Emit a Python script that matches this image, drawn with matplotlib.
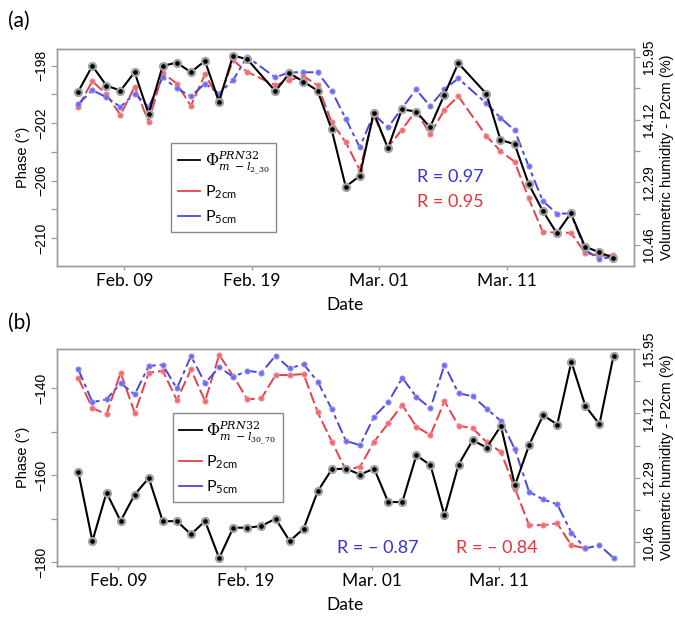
import numpy as np
import matplotlib
matplotlib.use("Agg")
import matplotlib.pyplot as plt
from matplotlib.lines import Line2D

# ---------------- data ----------------
# observation times, days counted from Feb. 00 (Feb. 09 = 9, Mar. 01 = 29)
days_a = [5.39, 6.49, 7.60, 8.70, 9.81, 10.91, 12.01, 13.12, 14.22, 15.33, 16.43, 17.53, 18.64,
          20.85, 21.95, 23.05, 24.16, 25.26, 26.37, 27.47, 28.57, 29.68, 30.78, 31.89, 32.99,
          34.10, 35.20, 37.41, 38.51, 39.62, 40.72, 41.82, 42.93, 44.03, 45.14, 46.24, 47.34]
phase_a = [-199.81, -198.02, -199.39, -199.74, -198.46, -201.36, -198.02, -197.79, -198.46, -197.67,
           -200.51, -197.30, -197.55, -199.78, -198.53, -199.11, -199.74, -202.43, -206.43, -205.68,
           -201.27, -203.75, -201.04, -201.20, -202.29, -200.04, -197.83, -199.97, -203.17, -203.47,
           -206.24, -208.10, -209.67, -208.28, -210.60, -210.99, -211.37]
p2_a = [14.49, 15.24, 14.86, 14.25, 15.08, 14.05, 15.48, 15.17, 14.52, 15.44, 14.71, 15.85, 15.51,
        15.12, 15.27, 15.39, 15.12, 14.05, 13.46, 12.65, 14.25, 13.31, 13.83, 14.38, 13.69, 14.40,
        14.80, 13.64, 13.20, 12.89, 11.82, 10.85, 10.82, 10.82, 10.24, 10.14, 10.17]
p5_a = [14.57, 14.98, 14.77, 14.49, 14.88, 14.49, 15.35, 15.03, 14.80, 15.17, 14.88, 15.27, 15.95,
        15.35, 15.50, 15.50, 15.50, 14.96, 14.15, 13.31, 14.28, 13.89, 14.45, 15.00, 14.51, 15.00,
        15.32, 14.59, 14.17, 13.81, 12.76, 11.75, 11.38, 11.38, 10.33, 10.05, 10.12]

days_b = [5.85, 6.96, 8.07, 9.18, 10.29, 11.40, 12.50, 13.61, 14.72, 15.83, 16.94, 18.05, 19.16,
          20.27, 21.38, 22.49, 23.59, 24.70, 25.81, 26.92, 28.03, 29.14, 30.25, 31.36, 32.47, 33.58,
          34.68, 35.79, 36.90, 38.01, 39.12, 40.23, 41.34, 42.45, 43.56, 44.67, 45.77, 46.88, 47.99]
phase_b = [-159.24, -175.15, -163.99, -170.54, -164.45, -160.62, -170.61, -170.54, -173.61, -170.54,
           -179.07, -172.07, -172.07, -171.69, -169.99, -175.15, -172.30, -163.69, -158.62, -158.45,
           -159.84, -158.45, -166.16, -166.16, -155.39, -157.69, -169.23, -157.53, -151.93, -153.61,
           -148.63, -162.31, -153.08, -146.16, -148.30, -133.86, -144.01, -148.24, -132.48]
p2_b = [15.12, 14.27, 14.10, 15.28, 14.14, 15.28, 15.33, 14.50, 15.37, 14.47, 15.78, 15.18, 14.52,
        14.55, 15.21, 15.21, 15.24, 14.15, 13.32, 12.51, 12.61, 13.32, 13.84, 14.36, 13.74, 13.51,
        14.47, 13.77, 13.70, 13.30, 13.03, 11.99, 10.95, 10.95, 11.00, 10.38, 10.29]
p5_b = [15.37, 14.44, 14.52, 14.98, 14.66, 15.47, 15.50, 14.83, 15.75, 14.98, 15.43, 15.16, 15.33,
        15.28, 15.76, 15.40, 15.52, 15.02, 14.24, 13.34, 13.22, 14.03, 14.44, 15.13, 14.59, 14.27,
        15.50, 14.69, 14.61, 14.25, 13.91, 13.10, 11.90, 11.68, 11.54, 10.74, 10.29, 10.38, 10.02]

date_ticks = [9, 19, 29, 39]
date_labels = ["Feb. 09", "Feb. 19", "Mar. 01", "Mar. 11"]
right_ticks = [15.95, 14.12, 12.29, 10.46]

# ---------------- style ----------------
RED = "#e8404a"
BLUE = "#4848e0"
RED_T = "#e8303a"
BLUE_T = "#3434d8"
SPINE = "#9a9a9a"
CAL = ["Lato", "DejaVu Sans"]
ARI = ["Liberation Sans", "DejaVu Sans"]
plt.rcParams["mathtext.fontset"] = "dejavuserif"

fig = plt.figure(figsize=(6.75, 6.19), dpi=100)


def panel(rect, days, phase, p2, p5, xlim, ylim, yr_lim, lticks, lminor, leg_label,
          leg_pos, rtexts, tag, tag_y):
    ax = fig.add_axes(rect)
    tw = ax.twinx()
    ax.set_zorder(tw.get_zorder() + 1)
    ax.patch.set_visible(False)

    tw.plot(days[:len(p2)], p2, color=RED, lw=1.4, dashes=(6, 2),
            marker="o", ms=3.6, mfc="#ee6a70", mec="#f08a8e", mew=0.8)
    tw.plot(days[:len(p5)], p5, color=BLUE, lw=1.4, dashes=(6, 2, 2, 2),
            marker="o", ms=3.6, mfc="#6a6aee", mec="#8e8ef0", mew=0.8)
    ax.plot(days, phase, color="black", lw=1.5, marker="o", ms=5.0,
            mfc="black", mec="#a0a0a0", mew=1.6)

    ax.set_xlim(*xlim)
    ax.set_ylim(*ylim)
    tw.set_ylim(*yr_lim)

    ax.set_xticks(date_ticks)
    ax.set_xticklabels(date_labels, fontsize=12.5, family=CAL)
    ax.set_yticks(lticks)
    ax.set_yticklabels([f"\u2212{abs(t)}" for t in lticks], fontsize=10, family=ARI,
                       rotation=90, va="center")
    ax.set_yticks(lminor, minor=True)
    tw.set_yticks(right_ticks)
    tw.set_yticklabels([f"{t:.2f}" for t in right_ticks], fontsize=10, family=ARI,
                       rotation=90, va="center")
    tw.set_yticks([(right_ticks[i] + right_ticks[i + 1]) / 2 for i in range(3)], minor=True)

    for a in (ax, tw):
        for s in a.spines.values():
            s.set_color(SPINE)
            s.set_linewidth(1.0)
        a.tick_params(which="both", color=SPINE, length=4, width=0.9)
    ax.tick_params(axis="x", length=3, pad=2)
    ax.tick_params(axis="y", pad=2)
    tw.tick_params(axis="y", pad=2)

    ax.set_xlabel("Date", fontsize=12.5, family=CAL, labelpad=6)
    ax.set_ylabel("Phase (\u00b0)", fontsize=10.5, family=ARI, labelpad=3)
    tw.set_ylabel("Volumetric humidity - P2cm (%)", fontsize=10.5, family=ARI, labelpad=3)

    handles = [Line2D([], [], color="black", lw=1.3),
               Line2D([], [], color=RED, lw=1.3),
               Line2D([], [], color=BLUE, lw=1.3)]
    labels = [leg_label, "P$_{\\mathregular{2cm}}$", "P$_{\\mathregular{5cm}}$"]
    leg = ax.legend(handles, labels, loc="upper left", bbox_to_anchor=leg_pos,
                    prop={"family": CAL, "size": 11.5}, frameon=True, fancybox=False,
                    handlelength=1.4, handletextpad=0.3, labelspacing=0.45,
                    borderpad=0.4, borderaxespad=0.0, edgecolor="#8a8a8a", framealpha=1)
    leg.get_frame().set_linewidth(1.0)

    for (x, y, s, c) in rtexts:
        ax.text(x, y, s, color=c, fontsize=13, family=CAL, ha="center", va="center",
                transform=ax.transAxes)

    fig.text(0.012, tag_y, tag, fontsize=15, family=CAL, ha="left", va="center")
    return ax


panel([0.0844, 0.5703, 0.8548, 0.3506], days_a, phase_a, p2_a, p5_a,
      (3.72, 48.98), (-211.95, -196.84), (9.85, 16.18),
      [-198, -202, -206, -210], [-200, -204, -208],
      "$\\Phi^{\\mathbf{\\mathit{PRN32}}}_{m\\ -l_{2\\_30}}$", (0.198, 0.567),
      [(0.681, 0.41, "R = 0.97", BLUE_T), (0.681, 0.295, "R = 0.95", RED_T)],
      "(a)", 0.967)

panel([0.0844, 0.0856, 0.8548, 0.3506], days_b, phase_b, p2_b, p5_b,
      (4.17, 49.6), (-180.9, -130.9), (9.79, 15.95),
      [-140, -160, -180], [-150, -170],
      "$\\Phi^{\\mathbf{\\mathit{PRN32}}}_{m\\ -l_{30\\_70}}$", (0.201, 0.705),
      [(0.556, 0.083, "R = \u2013 0.87", BLUE_T), (0.763, 0.083, "R = \u2013 0.84", RED_T)],
      "(b)", 0.478)

fig.savefig("out.png", dpi=100)
